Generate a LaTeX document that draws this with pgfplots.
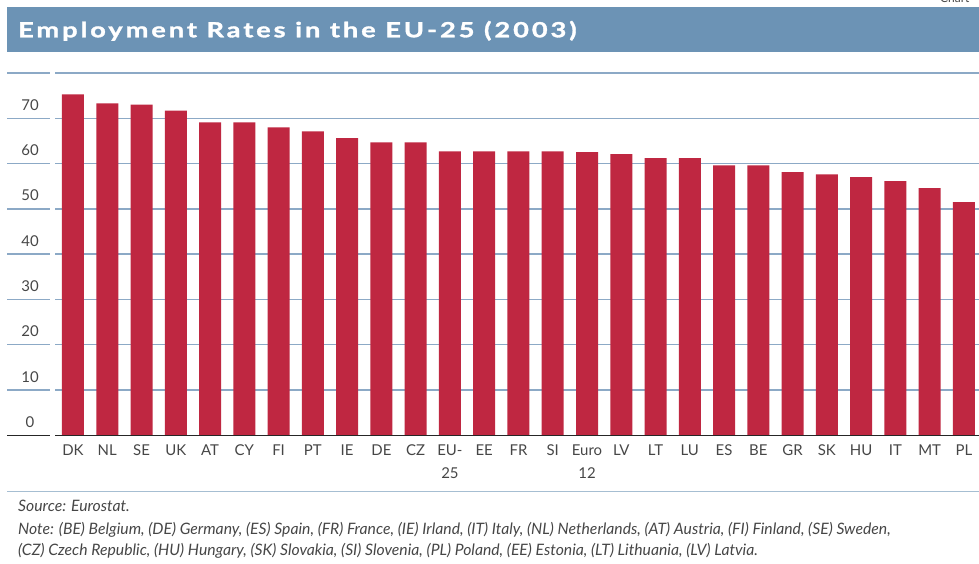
\documentclass[border=0pt]{standalone}
\usepackage{fontspec}
\setmainfont{Lato}
\newfontfamily\titlefont[LetterSpace=14, FakeStretch=1.3, BoldFeatures={FakeBold=1.5}]{Lato}
\usepackage{pgfplots}
\pgfplotsset{compat=1.18}
\definecolor{titleblue}{RGB}{108,147,181}
\definecolor{barred}{RGB}{191,39,65}
\definecolor{gridblue}{RGB}{140,169,198}
\definecolor{sepblue}{RGB}{166,190,210}
\definecolor{txtgray}{RGB}{70,70,70}
\begin{document}
\begin{tikzpicture}[x=1bp,y=1bp]
\path[use as bounding box] (0,0) rectangle (979,564);
\node[anchor=base west, inner sep=0, text=txtgray, font=\fontsize{12}{14}\selectfont] at (940,561) {Chart};
\fill[titleblue] (7,557) rectangle (979,511.5);
\node[anchor=base west, text=white, font=\titlefont\bfseries\fontsize{21}{25}\selectfont, inner sep=0] at (18,526.7) {Employment Rates in the EU-25 (2003)};
\begin{axis}[
  at={(7bp,128.7bp)}, anchor=south west,
  scale only axis, width=972bp, height=362.3bp,
  xmin=-1.926, xmax=26.44, ymin=0, ymax=80,
  axis line style={draw=none},
  major tick length=0pt,
  ymajorgrids, grid style={gridblue, line width=1.3bp},
  ytick={0,10,...,80},
  yticklabels={0,10,20,30,40,50,60,70,{}},
  /pgf/number format/assume math mode=true,
  yticklabel style={anchor=base, xshift=23bp, yshift=8bp, text=txtgray, font=\fontsize{15}{18}\selectfont},
  xtick={0,...,26},
  xticklabels={DK,NL,SE,UK,AT,CY,FI,PT,IE,DE,CZ,{EU-\\25},EE,FR,SI,{Euro\\12},LV,LT,LU,ES,BE,GR,SK,HU,IT,MT,PL},
  xticklabel style={align=center, anchor=north, yshift=-6bp, text=txtgray, font=\fontsize{15}{23}\selectfont},
  clip=false,
]
\addplot[ybar, bar width=22bp, fill=barred, draw=none] coordinates {
(0,75.3) (1,73.3) (2,73.0) (3,71.7) (4,69.1) (5,69.1) (6,68.0) (7,67.1) (8,65.6) (9,64.7)
(10,64.7) (11,62.7) (12,62.7) (13,62.7) (14,62.7) (15,62.5) (16,62.1) (17,61.2) (18,61.2)
(19,59.6) (20,59.6) (21,58.1) (22,57.6) (23,57.0) (24,56.1) (25,54.6) (26,51.5)};
\draw[black!85, line width=1.3bp] (axis cs:-1.926,0) -- (axis cs:26.44,0);
\fill[white] (axis cs:-0.671,-0.5) rectangle (axis cs:-0.525,80.5);
\end{axis}
\draw[sepblue, line width=1.5bp] (7,72.5) -- (979,72.5);
\begin{scope}[every node/.style={anchor=base west, inner sep=0, text=txtgray, font=\itshape\fontsize{15.8}{18}\selectfont}]
\node at (18,52) {Source: Eurostat.};
\node at (18,29.5) {Note: (BE) Belgium, (DE) Germany, (ES) Spain, (FR) France, (IE) Irland, (IT) Italy, (NL) Netherlands, (AT) Austria, (FI) Finland, (SE) Sweden,};
\node at (18,8) {(CZ) Czech Republic, (HU) Hungary, (SK) Slovakia, (SI) Slovenia, (PL) Poland, (EE) Estonia, (LT) Lithuania, (LV) Latvia.};
\end{scope}
\end{tikzpicture}
\end{document}
